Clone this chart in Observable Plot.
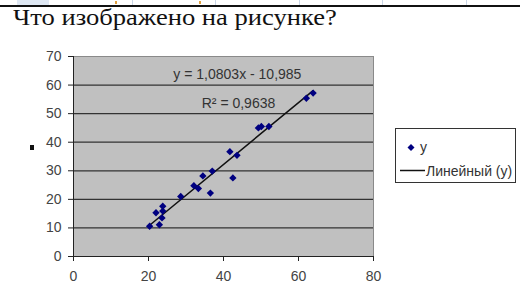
<!DOCTYPE html>
<html>
<head>
<meta charset="utf-8">
<script src="https://cdn.jsdelivr.net/npm/d3@7"></script>
<script src="https://cdn.jsdelivr.net/npm/@observablehq/plot@0.6"></script>
<style>
  html, body { margin: 0; padding: 0; background: #fff; }
  #wrap { position: relative; width: 520px; height: 287px; overflow: hidden; font-family: "Liberation Sans", Arial, sans-serif; }
  #chart { position: absolute; left: 0; top: 0; }
  .abs { position: absolute; }
  #title { left: 13px; top: 5px; font-family: "Liberation Serif", "Times New Roman", serif; font-size: 23px; color: #111; white-space: nowrap; transform: scaleX(1.155); transform-origin: 0 0; }
  #legend { left: 395px; top: 128px; width: 121px; height: 55px; border: 1px solid #333; box-sizing: border-box; background: #fff; font-size: 14px; color: #333; }
</style>
</head>
<body>
<div id="wrap">
  <div class="abs" style="left:0;top:5px;width:520px;height:2px;background:#111"></div>
  <div class="abs" style="left:17px;top:0;width:32px;height:5px;background:#dfe8f4"></div>
  <div class="abs" style="left:132px;top:0;width:1px;height:5px;background:#c9d5e6"></div>
  <div class="abs" style="left:215px;top:0;width:1px;height:5px;background:#c9d5e6"></div>
  <div class="abs" style="left:299px;top:0;width:1px;height:5px;background:#c9d5e6"></div>
  <div class="abs" style="left:382px;top:0;width:1px;height:5px;background:#c9d5e6"></div>
  <div class="abs" style="left:466px;top:0;width:1px;height:5px;background:#c9d5e6"></div>
  <div class="abs" style="left:115px;top:1px;width:2px;height:3px;background:#e0a040"></div>
  <div class="abs" style="left:199px;top:1px;width:2px;height:3px;background:#e0a040"></div>
  <div id="title" class="abs">Что изображено на рисунке?</div>
  <div class="abs" style="left:30px;top:145px;width:4px;height:5px;background:#111"></div>
  <div id="chart"></div>
  <div id="legend" class="abs">
    <svg width="119" height="53" style="position:absolute;left:0;top:0">
      <path d="M15 15 L18.5 18.5 L15 22 L11.5 18.5 Z" fill="#000080"/>
      <text x="24" y="23" font-size="14" fill="#333" font-family="Liberation Sans, Arial, sans-serif">y</text>
      <line x1="4" x2="29" y1="41.5" y2="41.5" stroke="#111" stroke-width="1.5"/>
      <text x="30" y="46.5" font-size="14" fill="#333" font-family="Liberation Sans, Arial, sans-serif">Линейный (у)</text>
    </svg>
  </div>
</div>
<script>
const xs = [20.3, 22.9, 22.0, 23.8, 23.8, 23.6, 28.6, 32.1, 33.3, 34.5, 37.0, 36.5, 42.5, 41.7, 43.6, 49.3, 50.1, 52.1, 62.1, 63.9];
const ys = [10.6, 11.1, 15.3, 17.6, 15.9, 13.5, 21.0, 24.8, 23.8, 28.2, 29.9, 22.2, 27.5, 36.7, 35.4, 45.0, 45.5, 45.5, 55.4, 57.2];
const trendCoef = [1.0803, -10.985];
const trendRange = [20.3, 63.9];
const xTicks = [0, 20, 40, 60, 80];
const yTicks = [0, 10, 20, 30, 40, 50, 60, 70];
const gridY = [10, 20, 30, 40, 50, 60];
const labels = ["y = 1,0803x - 10,985", "R² = 0,9638"];
const labelPos = [[43.7, 63.8], [44.0, 53.6]];

const points = xs.map((x, i) => ({x, y: ys[i]}));
const trend = trendRange.map(x => ({x, y: trendCoef[0] * x + trendCoef[1]}));
const labelData = labels.map((t, i) => ({t, x: labelPos[i][0], y: labelPos[i][1]}));

const chart = Plot.plot({
  width: 520,
  height: 287,
  marginLeft: 73,
  marginRight: 147,
  marginTop: 56,
  marginBottom: 31,
  style: {fontFamily: "Liberation Sans, Arial, sans-serif", background: "transparent", overflow: "visible"},
  x: {domain: [0, 80]},
  y: {domain: [0, 70]},
  marks: [
    Plot.frame({fill: "#c0c0c0", stroke: "#8a8a8a"}),
    Plot.ruleY(gridY, {stroke: "#333", strokeWidth: 1.3}),
    Plot.ruleX([0], {stroke: "#222"}),
    Plot.ruleY([0], {stroke: "#222"}),
    Plot.axisX({ticks: xTicks, tickSize: 5, tickPadding: 10, fontSize: 14, color: "#444", stroke: "#222", label: null}),
    Plot.axisY({ticks: yTicks, tickSize: 5, tickPadding: 7, fontSize: 14, color: "#444", stroke: "#222", label: null}),
    Plot.line(trend, {x: "x", y: "y", stroke: "#111", strokeWidth: 1.5}),
    Plot.dot(points, {x: "x", y: "y", symbol: "diamond2", r: 3.3, fill: "#000080", stroke: "none"}),
    Plot.text(labelData, {x: "x", y: "y", text: "t", fontSize: 14, fill: "#333"})
  ]
});
document.getElementById("chart").appendChild(chart);
</script>
</body>
</html>
